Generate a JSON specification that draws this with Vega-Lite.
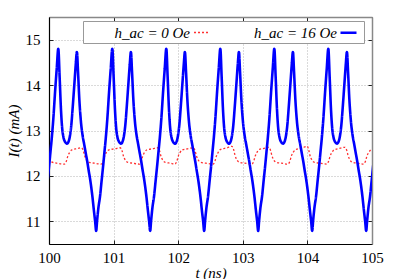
{
"$schema": "https://vega.github.io/schema/vega-lite/v6.json",
"width": 323, "height": 227, "autosize": "none",
"padding": {"left": 49, "top": 17, "right": 27, "bottom": 35},
"config": {
 "view": {"stroke": null},
 "font": "Liberation Serif",
 "axis": {"labelFont": "Liberation Serif", "labelFontSize": 15, "labelColor": "black", "titleFont": "Liberation Serif", "titleFontSize": 15, "titleFontStyle": "italic", "titleFontWeight": "normal", "titleColor": "black", "gridColor": "#b5b5b5", "gridDash": [1, 2], "gridWidth": 1, "tickColor": "#222", "tickSize": -4, "labelFlush": false},
 "legend": {"orient": "none", "legendX": 34, "legendY": 4, "direction": "horizontal", "title": null, "fillColor": "white", "strokeColor": "#999", "padding": 2, "labelFont": "Liberation Serif", "labelFontStyle": "italic", "labelFontSize": 15, "labelColor": "black", "symbolType": "stroke", "symbolSize": 256, "labelAlign": "right", "labelOffset": -21, "symbolOffset": 108, "columnPadding": 18}
},
"data": {"values": [
{"t":99.97,"I":12.45,"s":"0"},{"t":100.0,"I":12.35,"s":"0"},{"t":100.04,"I":12.31,"s":"0"},{"t":100.12,"I":12.28,"s":"0"},
{"t":100.24,"I":12.26,"s":"0"},{"t":100.27,"I":12.33,"s":"0"},{"t":100.29,"I":12.43,"s":"0"},{"t":100.32,"I":12.52,"s":"0"},{"t":100.35,"I":12.57,"s":"0"},{"t":100.43,"I":12.60,"s":"0"},{"t":100.50,"I":12.62,"s":"0"},{"t":100.53,"I":12.56,"s":"0"},{"t":100.55,"I":12.45,"s":"0"},{"t":100.58,"I":12.35,"s":"0"},{"t":100.62,"I":12.30,"s":"0"},{"t":100.70,"I":12.28,"s":"0"},
{"t":100.81,"I":12.26,"s":"0"},{"t":100.84,"I":12.33,"s":"0"},{"t":100.86,"I":12.43,"s":"0"},{"t":100.89,"I":12.52,"s":"0"},{"t":100.92,"I":12.57,"s":"0"},{"t":101.03,"I":12.60,"s":"0"},{"t":101.10,"I":12.62,"s":"0"},{"t":101.13,"I":12.56,"s":"0"},{"t":101.15,"I":12.45,"s":"0"},{"t":101.18,"I":12.35,"s":"0"},{"t":101.22,"I":12.30,"s":"0"},{"t":101.30,"I":12.28,"s":"0"},
{"t":101.40,"I":12.26,"s":"0"},{"t":101.43,"I":12.33,"s":"0"},{"t":101.45,"I":12.43,"s":"0"},{"t":101.48,"I":12.52,"s":"0"},{"t":101.51,"I":12.57,"s":"0"},{"t":101.61,"I":12.60,"s":"0"},{"t":101.68,"I":12.62,"s":"0"},{"t":101.71,"I":12.56,"s":"0"},{"t":101.73,"I":12.45,"s":"0"},{"t":101.76,"I":12.35,"s":"0"},{"t":101.80,"I":12.30,"s":"0"},{"t":101.88,"I":12.28,"s":"0"},
{"t":101.95,"I":12.26,"s":"0"},{"t":101.98,"I":12.33,"s":"0"},{"t":102.00,"I":12.43,"s":"0"},{"t":102.03,"I":12.52,"s":"0"},{"t":102.06,"I":12.57,"s":"0"},{"t":102.16,"I":12.60,"s":"0"},{"t":102.23,"I":12.62,"s":"0"},{"t":102.26,"I":12.56,"s":"0"},{"t":102.28,"I":12.45,"s":"0"},{"t":102.31,"I":12.35,"s":"0"},{"t":102.35,"I":12.30,"s":"0"},{"t":102.43,"I":12.28,"s":"0"},
{"t":102.54,"I":12.26,"s":"0"},{"t":102.57,"I":12.33,"s":"0"},{"t":102.59,"I":12.43,"s":"0"},{"t":102.62,"I":12.52,"s":"0"},{"t":102.65,"I":12.58,"s":"0"},{"t":102.76,"I":12.62,"s":"0"},{"t":102.83,"I":12.65,"s":"0"},{"t":102.86,"I":12.57,"s":"0"},{"t":102.88,"I":12.45,"s":"0"},{"t":102.91,"I":12.35,"s":"0"},{"t":102.95,"I":12.30,"s":"0"},{"t":103.03,"I":12.28,"s":"0"},
{"t":103.14,"I":12.26,"s":"0"},{"t":103.17,"I":12.33,"s":"0"},{"t":103.19,"I":12.43,"s":"0"},{"t":103.22,"I":12.52,"s":"0"},{"t":103.25,"I":12.58,"s":"0"},{"t":103.34,"I":12.61,"s":"0"},{"t":103.40,"I":12.63,"s":"0"},{"t":103.43,"I":12.56,"s":"0"},{"t":103.45,"I":12.45,"s":"0"},{"t":103.48,"I":12.35,"s":"0"},{"t":103.52,"I":12.30,"s":"0"},{"t":103.60,"I":12.28,"s":"0"},
{"t":103.70,"I":12.26,"s":"0"},{"t":103.73,"I":12.33,"s":"0"},{"t":103.75,"I":12.43,"s":"0"},{"t":103.78,"I":12.52,"s":"0"},{"t":103.81,"I":12.57,"s":"0"},{"t":103.92,"I":12.62,"s":"0"},{"t":104.00,"I":12.65,"s":"0"},{"t":104.02,"I":12.57,"s":"0"},{"t":104.04,"I":12.45,"s":"0"},{"t":104.07,"I":12.35,"s":"0"},{"t":104.11,"I":12.30,"s":"0"},{"t":104.19,"I":12.28,"s":"0"},
{"t":104.30,"I":12.26,"s":"0"},{"t":104.33,"I":12.33,"s":"0"},{"t":104.35,"I":12.43,"s":"0"},{"t":104.38,"I":12.52,"s":"0"},{"t":104.41,"I":12.57,"s":"0"},{"t":104.51,"I":12.61,"s":"0"},{"t":104.58,"I":12.63,"s":"0"},{"t":104.61,"I":12.56,"s":"0"},{"t":104.63,"I":12.45,"s":"0"},{"t":104.66,"I":12.35,"s":"0"},{"t":104.70,"I":12.30,"s":"0"},{"t":104.78,"I":12.28,"s":"0"},
{"t":104.87,"I":12.26,"s":"0"},{"t":104.90,"I":12.33,"s":"0"},{"t":104.92,"I":12.43,"s":"0"},{"t":104.95,"I":12.52,"s":"0"},{"t":104.98,"I":12.57,"s":"0"},{"t":105.0,"I":12.59,"s":"0"},
{"t":99.979,"I":11.90,"s":"16"},{"t":100.004,"I":12.25,"s":"16"},{"t":100.024,"I":12.55,"s":"16"},{"t":100.044,"I":12.85,"s":"16"},{"t":100.069,"I":13.30,"s":"16"},{"t":100.094,"I":13.85,"s":"16"},{"t":100.119,"I":14.35,"s":"16"},{"t":100.144,"I":14.80,"s":"16"},{"t":100.164,"I":14.20,"s":"16"},{"t":100.184,"I":13.50,"s":"16"},{"t":100.204,"I":13.05,"s":"16"},{"t":100.224,"I":12.85,"s":"16"},{"t":100.249,"I":12.75,"s":"16"},{"t":100.279,"I":12.71,"s":"16"},{"t":100.304,"I":12.76,"s":"16"},{"t":100.324,"I":12.88,"s":"16"},{"t":100.344,"I":13.10,"s":"16"},{"t":100.369,"I":13.55,"s":"16"},{"t":100.394,"I":14.05,"s":"16"},{"t":100.414,"I":14.45,"s":"16"},{"t":100.432,"I":14.73,"s":"16"},{"t":100.449,"I":14.30,"s":"16"},{"t":100.469,"I":13.70,"s":"16"},{"t":100.494,"I":13.20,"s":"16"},{"t":100.519,"I":12.90,"s":"16"},{"t":100.544,"I":12.70,"s":"16"},{"t":100.569,"I":12.50,"s":"16"},{"t":100.594,"I":12.30,"s":"16"},{"t":100.614,"I":12.12,"s":"16"},{"t":100.634,"I":11.95,"s":"16"},{"t":100.654,"I":11.75,"s":"16"},{"t":100.674,"I":11.52,"s":"16"},{"t":100.694,"I":11.25,"s":"16"},{"t":100.714,"I":11.00,"s":"16"},
{"t":100.730,"I":10.79,"s":"16"},{"t":100.745,"I":11.02,"s":"16"},{"t":100.765,"I":11.30,"s":"16"},{"t":100.790,"I":11.55,"s":"16"},{"t":100.815,"I":11.90,"s":"16"},{"t":100.840,"I":12.25,"s":"16"},{"t":100.860,"I":12.55,"s":"16"},{"t":100.880,"I":12.85,"s":"16"},{"t":100.905,"I":13.30,"s":"16"},{"t":100.930,"I":13.85,"s":"16"},{"t":100.955,"I":14.35,"s":"16"},{"t":100.980,"I":14.80,"s":"16"},{"t":101.000,"I":14.20,"s":"16"},{"t":101.020,"I":13.50,"s":"16"},{"t":101.040,"I":13.05,"s":"16"},{"t":101.060,"I":12.85,"s":"16"},{"t":101.085,"I":12.75,"s":"16"},{"t":101.115,"I":12.71,"s":"16"},{"t":101.140,"I":12.76,"s":"16"},{"t":101.160,"I":12.88,"s":"16"},{"t":101.180,"I":13.10,"s":"16"},{"t":101.205,"I":13.55,"s":"16"},{"t":101.230,"I":14.05,"s":"16"},{"t":101.250,"I":14.45,"s":"16"},{"t":101.268,"I":14.73,"s":"16"},{"t":101.285,"I":14.30,"s":"16"},{"t":101.305,"I":13.70,"s":"16"},{"t":101.330,"I":13.20,"s":"16"},{"t":101.355,"I":12.90,"s":"16"},{"t":101.380,"I":12.70,"s":"16"},{"t":101.405,"I":12.50,"s":"16"},{"t":101.430,"I":12.30,"s":"16"},{"t":101.450,"I":12.12,"s":"16"},{"t":101.470,"I":11.95,"s":"16"},{"t":101.490,"I":11.75,"s":"16"},{"t":101.510,"I":11.52,"s":"16"},{"t":101.530,"I":11.25,"s":"16"},{"t":101.550,"I":11.00,"s":"16"},
{"t":101.566,"I":10.79,"s":"16"},{"t":101.581,"I":11.02,"s":"16"},{"t":101.601,"I":11.30,"s":"16"},{"t":101.626,"I":11.55,"s":"16"},{"t":101.651,"I":11.90,"s":"16"},{"t":101.676,"I":12.25,"s":"16"},{"t":101.696,"I":12.55,"s":"16"},{"t":101.716,"I":12.85,"s":"16"},{"t":101.741,"I":13.30,"s":"16"},{"t":101.766,"I":13.85,"s":"16"},{"t":101.791,"I":14.35,"s":"16"},{"t":101.816,"I":14.80,"s":"16"},{"t":101.836,"I":14.20,"s":"16"},{"t":101.856,"I":13.50,"s":"16"},{"t":101.876,"I":13.05,"s":"16"},{"t":101.896,"I":12.85,"s":"16"},{"t":101.921,"I":12.75,"s":"16"},{"t":101.951,"I":12.71,"s":"16"},{"t":101.976,"I":12.76,"s":"16"},{"t":101.996,"I":12.88,"s":"16"},{"t":102.016,"I":13.10,"s":"16"},{"t":102.041,"I":13.55,"s":"16"},{"t":102.066,"I":14.05,"s":"16"},{"t":102.086,"I":14.45,"s":"16"},{"t":102.104,"I":14.73,"s":"16"},{"t":102.121,"I":14.30,"s":"16"},{"t":102.141,"I":13.70,"s":"16"},{"t":102.166,"I":13.20,"s":"16"},{"t":102.191,"I":12.90,"s":"16"},{"t":102.216,"I":12.70,"s":"16"},{"t":102.241,"I":12.50,"s":"16"},{"t":102.266,"I":12.30,"s":"16"},{"t":102.286,"I":12.12,"s":"16"},{"t":102.306,"I":11.95,"s":"16"},{"t":102.326,"I":11.75,"s":"16"},{"t":102.346,"I":11.52,"s":"16"},{"t":102.366,"I":11.25,"s":"16"},{"t":102.386,"I":11.00,"s":"16"},
{"t":102.402,"I":10.79,"s":"16"},{"t":102.417,"I":11.02,"s":"16"},{"t":102.437,"I":11.30,"s":"16"},{"t":102.462,"I":11.55,"s":"16"},{"t":102.487,"I":11.90,"s":"16"},{"t":102.512,"I":12.25,"s":"16"},{"t":102.532,"I":12.55,"s":"16"},{"t":102.552,"I":12.85,"s":"16"},{"t":102.577,"I":13.30,"s":"16"},{"t":102.602,"I":13.85,"s":"16"},{"t":102.627,"I":14.35,"s":"16"},{"t":102.652,"I":14.80,"s":"16"},{"t":102.672,"I":14.20,"s":"16"},{"t":102.692,"I":13.50,"s":"16"},{"t":102.712,"I":13.05,"s":"16"},{"t":102.732,"I":12.85,"s":"16"},{"t":102.757,"I":12.75,"s":"16"},{"t":102.787,"I":12.71,"s":"16"},{"t":102.812,"I":12.76,"s":"16"},{"t":102.832,"I":12.88,"s":"16"},{"t":102.852,"I":13.10,"s":"16"},{"t":102.877,"I":13.55,"s":"16"},{"t":102.902,"I":14.05,"s":"16"},{"t":102.922,"I":14.45,"s":"16"},{"t":102.940,"I":14.73,"s":"16"},{"t":102.957,"I":14.30,"s":"16"},{"t":102.977,"I":13.70,"s":"16"},{"t":103.002,"I":13.20,"s":"16"},{"t":103.027,"I":12.90,"s":"16"},{"t":103.052,"I":12.70,"s":"16"},{"t":103.077,"I":12.50,"s":"16"},{"t":103.102,"I":12.30,"s":"16"},{"t":103.122,"I":12.12,"s":"16"},{"t":103.142,"I":11.95,"s":"16"},{"t":103.162,"I":11.75,"s":"16"},{"t":103.182,"I":11.52,"s":"16"},{"t":103.202,"I":11.25,"s":"16"},{"t":103.222,"I":11.00,"s":"16"},
{"t":103.238,"I":10.79,"s":"16"},{"t":103.253,"I":11.02,"s":"16"},{"t":103.273,"I":11.30,"s":"16"},{"t":103.298,"I":11.55,"s":"16"},{"t":103.323,"I":11.90,"s":"16"},{"t":103.348,"I":12.25,"s":"16"},{"t":103.368,"I":12.55,"s":"16"},{"t":103.388,"I":12.85,"s":"16"},{"t":103.413,"I":13.30,"s":"16"},{"t":103.438,"I":13.85,"s":"16"},{"t":103.463,"I":14.35,"s":"16"},{"t":103.488,"I":14.80,"s":"16"},{"t":103.508,"I":14.20,"s":"16"},{"t":103.528,"I":13.50,"s":"16"},{"t":103.548,"I":13.05,"s":"16"},{"t":103.568,"I":12.85,"s":"16"},{"t":103.593,"I":12.75,"s":"16"},{"t":103.623,"I":12.71,"s":"16"},{"t":103.648,"I":12.76,"s":"16"},{"t":103.668,"I":12.88,"s":"16"},{"t":103.688,"I":13.10,"s":"16"},{"t":103.713,"I":13.55,"s":"16"},{"t":103.738,"I":14.05,"s":"16"},{"t":103.758,"I":14.45,"s":"16"},{"t":103.776,"I":14.73,"s":"16"},{"t":103.793,"I":14.30,"s":"16"},{"t":103.813,"I":13.70,"s":"16"},{"t":103.838,"I":13.20,"s":"16"},{"t":103.863,"I":12.90,"s":"16"},{"t":103.888,"I":12.70,"s":"16"},{"t":103.913,"I":12.50,"s":"16"},{"t":103.938,"I":12.30,"s":"16"},{"t":103.958,"I":12.12,"s":"16"},{"t":103.978,"I":11.95,"s":"16"},{"t":103.998,"I":11.75,"s":"16"},{"t":104.018,"I":11.52,"s":"16"},{"t":104.038,"I":11.25,"s":"16"},{"t":104.058,"I":11.00,"s":"16"},
{"t":104.074,"I":10.79,"s":"16"},{"t":104.089,"I":11.02,"s":"16"},{"t":104.109,"I":11.30,"s":"16"},{"t":104.134,"I":11.55,"s":"16"},{"t":104.159,"I":11.90,"s":"16"},{"t":104.184,"I":12.25,"s":"16"},{"t":104.204,"I":12.55,"s":"16"},{"t":104.224,"I":12.85,"s":"16"},{"t":104.249,"I":13.30,"s":"16"},{"t":104.274,"I":13.85,"s":"16"},{"t":104.299,"I":14.35,"s":"16"},{"t":104.324,"I":14.80,"s":"16"},{"t":104.344,"I":14.20,"s":"16"},{"t":104.364,"I":13.50,"s":"16"},{"t":104.384,"I":13.05,"s":"16"},{"t":104.404,"I":12.85,"s":"16"},{"t":104.429,"I":12.75,"s":"16"},{"t":104.459,"I":12.71,"s":"16"},{"t":104.484,"I":12.76,"s":"16"},{"t":104.504,"I":12.88,"s":"16"},{"t":104.524,"I":13.10,"s":"16"},{"t":104.549,"I":13.55,"s":"16"},{"t":104.574,"I":14.05,"s":"16"},{"t":104.594,"I":14.45,"s":"16"},{"t":104.612,"I":14.73,"s":"16"},{"t":104.629,"I":14.30,"s":"16"},{"t":104.649,"I":13.70,"s":"16"},{"t":104.674,"I":13.20,"s":"16"},{"t":104.699,"I":12.90,"s":"16"},{"t":104.724,"I":12.70,"s":"16"},{"t":104.749,"I":12.50,"s":"16"},{"t":104.774,"I":12.30,"s":"16"},{"t":104.794,"I":12.12,"s":"16"},{"t":104.814,"I":11.95,"s":"16"},{"t":104.834,"I":11.75,"s":"16"},{"t":104.854,"I":11.52,"s":"16"},{"t":104.874,"I":11.25,"s":"16"},{"t":104.894,"I":11.00,"s":"16"},
{"t":104.910,"I":10.79,"s":"16"},{"t":104.925,"I":11.02,"s":"16"},{"t":104.945,"I":11.30,"s":"16"},{"t":104.970,"I":11.55,"s":"16"},{"t":104.995,"I":11.90,"s":"16"},{"t":105.020,"I":12.25,"s":"16"}
]},
"layer": [
 {
  "mark": {"type": "line", "clip": true, "interpolate": "monotone"},
  "encoding": {
   "x": {"field": "t", "type": "quantitative", "scale": {"domain": [100, 105], "nice": false, "zero": false},
    "axis": {"values": [100, 101, 102, 103, 104, 105], "format": "d", "title": "t (ns)", "labelPadding": 10, "titlePadding": 0, "domainColor": "black", "domainWidth": 1.2}},
   "y": {"field": "I", "type": "quantitative", "scale": {"domain": [10.5, 15.5], "nice": false, "zero": false},
    "axis": {"values": [11, 12, 13, 14, 15], "format": "d", "title": "I(t) (mA)", "labelPadding": 13, "titlePadding": 4, "domainColor": "black", "domainWidth": 1.2}},
   "color": {"field": "s", "type": "nominal", "scale": {"domain": ["0", "16"], "range": ["#ff3030", "#0000ff"]},
    "legend": {"labelExpr": "'h_ac = ' + datum.label + ' Oe'"}},
   "strokeDash": {"field": "s", "type": "nominal", "scale": {"domain": ["0", "16"], "range": [[2, 2], [1, 0]]},
    "legend": {"labelExpr": "'h_ac = ' + datum.label + ' Oe'"}},
   "strokeWidth": {"field": "s", "type": "nominal", "scale": {"domain": ["0", "16"], "range": [1.3, 2.6]},
    "legend": {"labelExpr": "'h_ac = ' + datum.label + ' Oe'"}}
  }
 },
 {
  "mark": {"type": "line", "strokeOpacity": 0},
  "encoding": {
   "x": {"field": "t", "type": "quantitative", "axis": {"orient": "top", "values": [100, 101, 102, 103, 104, 105], "labels": false, "title": null, "grid": false, "domainColor": "#888", "domainWidth": 1.5}},
   "y": {"field": "I", "type": "quantitative", "axis": {"orient": "right", "values": [11, 12, 13, 14, 15], "labels": false, "title": null, "grid": false, "domainColor": "#888", "domainWidth": 1.5}}
  }
 }
],
"resolve": {"axis": {"x": "independent", "y": "independent"}}
}
